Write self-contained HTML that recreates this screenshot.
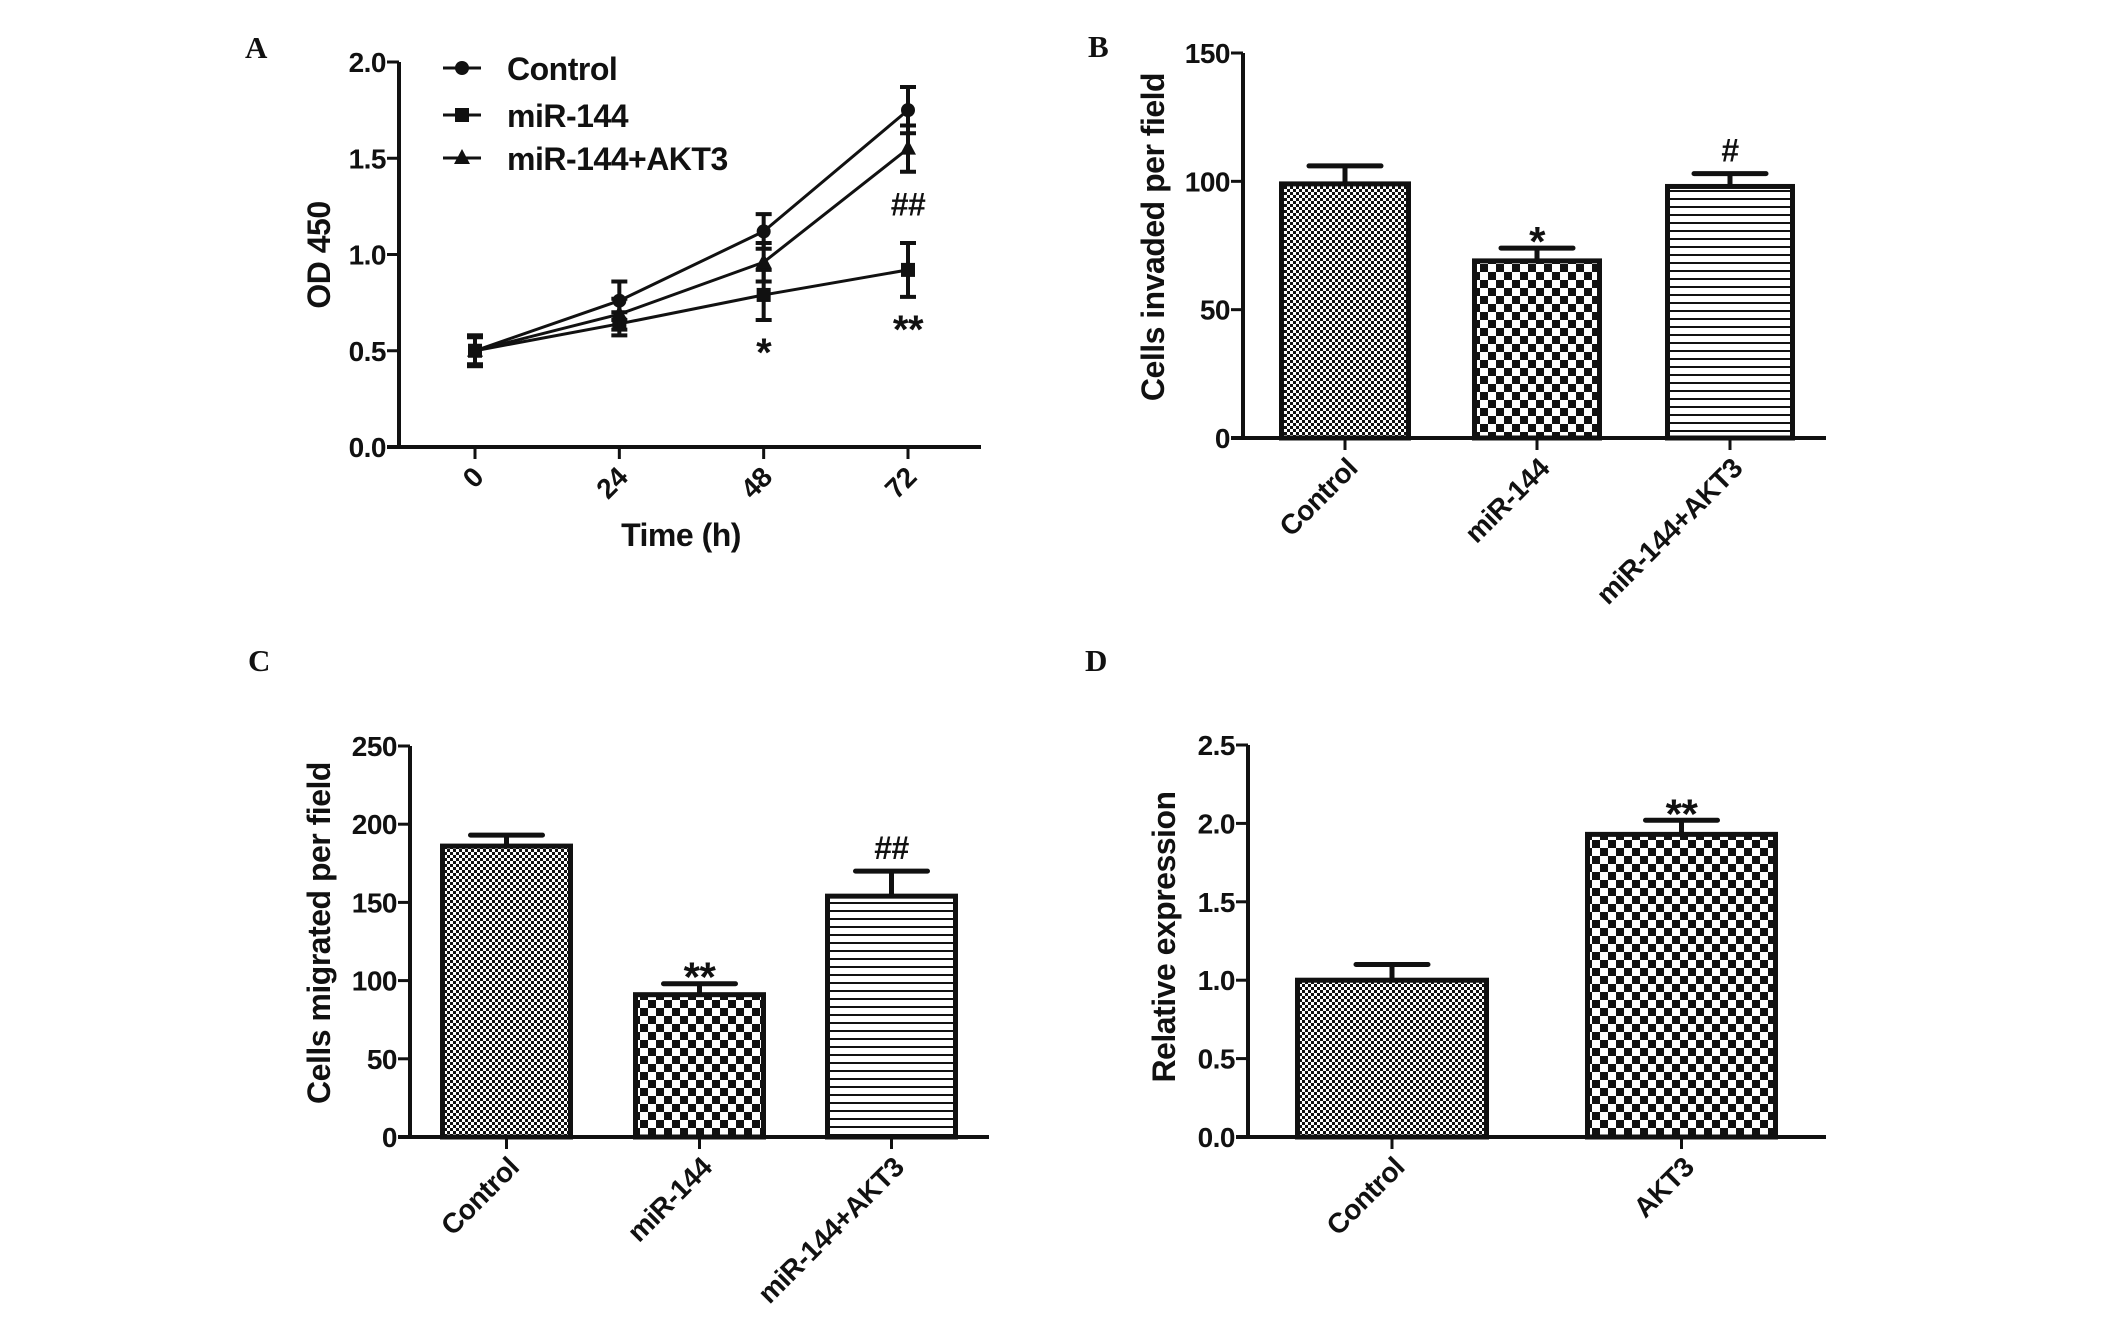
<!DOCTYPE html>
<html><head><meta charset="utf-8"><style>
html,body{margin:0;padding:0;background:#fff;}
svg{display:block;}
text{font-family:"Liberation Sans",Arial,sans-serif;font-weight:bold;fill:#111;letter-spacing:-0.5px;}
.lbl{font-family:"Liberation Serif",serif;font-size:31px;letter-spacing:0;}
</style></head><body>
<svg id="fig" width="2126" height="1320" viewBox="0 0 2126 1320">
<defs>
<pattern id="fine" width="6" height="6" patternUnits="userSpaceOnUse"><rect width="6" height="6" fill="#fff"/><rect width="3" height="3" fill="#111"/><rect x="3" y="3" width="3" height="3" fill="#111"/></pattern>
<pattern id="coarse" width="16" height="16" patternUnits="userSpaceOnUse"><rect width="16" height="16" fill="#fff"/><rect width="8" height="8" fill="#111"/><rect x="8" y="8" width="8" height="8" fill="#111"/></pattern>
<pattern id="hlines" width="8" height="8" patternUnits="userSpaceOnUse"><rect width="8" height="8" fill="#fff"/><rect y="6" width="8" height="2" fill="#111"/></pattern>
</defs>
</svg>
<script>
// Panel A data
const aTimes = ['0','24','48','72'];
const aSeries = ['Control','miR-144','miR-144+AKT3'];
const aControl = [0.5, 0.76, 1.12, 1.75];
const aControlErr = [0.08, 0.10, 0.09, 0.12];
const aMir = [0.5, 0.64, 0.79, 0.92];
const aMirErr = [0.08, 0.06, 0.13, 0.14];
const aAkt = [0.5, 0.69, 0.96, 1.55];
const aAktErr = [0.07, 0.08, 0.10, 0.12];
const aTicks = [0, 0.5, 1.0, 1.5, 2.0];
// Panel B
const bCats = ['Control','miR-144','miR-144+AKT3'];
const bVals = [99, 69, 98];
const bErr = [7, 5, 5];
const bMarks = ['', '*', '#'];
const bTicks = [0, 50, 100, 150];
// Panel C
const cCats = ['Control','miR-144','miR-144+AKT3'];
const cVals = [186, 91, 154];
const cErr = [7, 7, 16];
const cMarks = ['', '**', '##'];
const cTicks = [0, 50, 100, 150, 200, 250];
// Panel D
const dCats = ['Control','AKT3'];
const dVals = [1.00, 1.93];
const dErr = [0.10, 0.09];
const dMarks = ['', '**'];
const dTicks = [0, 0.5, 1.0, 1.5, 2.0, 2.5];

const NS='http://www.w3.org/2000/svg';
const svg=document.getElementById('fig');
function el(tag,attrs,parent,txt){const e=document.createElementNS(NS,tag);for(const k in attrs)e.setAttribute(k,attrs[k]);if(txt!==undefined)e.textContent=txt;(parent||svg).appendChild(e);return e;}

function axes(g,x0,xEnd,y0,yTop,ticks,ymax,fmt){
  const sy=v=>y0-(v/ymax)*(y0-yTop);
  const ax=el('line',{x1:x0,y1:y0+2,x2:x0,y2:yTop,stroke:'#111','stroke-width':4},g);
  
  
  const bx=el('line',{x1:x0-12,y1:y0,x2:xEnd,y2:y0,stroke:'#111','stroke-width':4},g);
  
  
  ticks.forEach(t=>{
    const tk=el('line',{x1:x0-12,y1:sy(t),x2:x0,y2:sy(t),stroke:'#111','stroke-width':3},g);
    
    
    const tl=el('text',{x:x0-13,y:sy(t)+10,'text-anchor':'end','font-size':28},g,fmt(t));
    
    
  });
  return sy;
}
function ytitle(g,x,y,txt){
  const t=el('text',{x:x,y:y,'text-anchor':'middle','font-size':32,transform:`rotate(-90 ${x} ${y})`},g,txt);
  
  
}
function xlabel(g,x,y,txt){
  const t=el('text',{x:x,y:y,'text-anchor':'end','font-size':28,transform:`rotate(-45 ${x} ${y})`},g,txt);
  
  
}
function panelLetter(x,y,txt){
  const t=el('text',{x:x,y:y,class:'lbl'},svg,txt);
  
  
}

// ===== Panel A =====
(function(){
  const g=el('g',{});
  
  
  panelLetter(245,58,'A');
  const x0=399,xEnd=981,y0=447,yTop=62;
  const sy=axes(g,x0,xEnd,y0,yTop,aTicks,2.0,v=>v.toFixed(1));
  const xs=[475,620,763,908];
  const sx=i=>xs[0]+i*((xs[3]-xs[0])/(aTimes.length-1));
  aTimes.forEach((t,i)=>{
    const tk=el('line',{x1:sx(i),y1:y0,x2:sx(i),y2:y0+12,stroke:'#111','stroke-width':3},g);
    
    
    xlabel(g,sx(i)+10,y0+32,t);
  });
  const series=[[aControl,aControlErr,'circle'],[aMir,aMirErr,'square'],[aAkt,aAktErr,'triangle']];
  function marker(gg,type,x,y){
    let m;
    if(type==='circle') m=el('circle',{cx:x,cy:y,r:7,fill:'#111'},gg);
    else if(type==='square') m=el('rect',{x:x-7,y:y-7,width:14,height:14,fill:'#111'},gg);
    else m=el('polygon',{points:`${x},${y-9} ${x+8},${y+6} ${x-8},${y+6}`,fill:'#111'},gg);
    return m;
  }
  series.forEach((s,si)=>{
    const sg=el('g',{},g);
    
    
    const pts=s[0].map((v,i)=>`${sx(i)},${sy(v)}`).join(' ');
    const pl=el('polyline',{points:pts,fill:'none',stroke:'#111','stroke-width':3},sg);
    
    
    s[0].forEach((v,i)=>{
      const e=s[1][i];
      const eb=el('path',{d:`M${sx(i)},${sy(v-e)}V${sy(v+e)}M${sx(i)-8},${sy(v-e)}H${sx(i)+8}M${sx(i)-8},${sy(v+e)}H${sx(i)+8}`,stroke:'#111','stroke-width':4,fill:'none'},sg);
      
      
      const m=marker(sg,s[2],sx(i),sy(v));
      
      
    });
  });
  const s1=el('text',{x:sx(2),y:sy(aMir[2]-aMirErr[2])+46,'text-anchor':'middle','font-size':40},g,'*');
  
  
  const s2=el('text',{x:sx(3),y:sy(aMir[3]-aMirErr[3])+46,'text-anchor':'middle','font-size':40},g,'**');
  
  
  const s3=el('text',{x:sx(3),y:sy(aAkt[3]-aAktErr[3])+44,'text-anchor':'middle','font-size':32},g,'##');
  
  
  const lg=el('g',{},g);
  
  
  const ly=[68,115,158];
  aSeries.forEach((n,i)=>{
    const eg=el('g',{},lg);
    
    
    el('line',{x1:443,y1:ly[i],x2:481,y2:ly[i],stroke:'#111','stroke-width':3},eg);
    marker(eg,series[i][2],462,ly[i]);
    el('text',{x:507,y:ly[i]+12,'font-size':32},eg,n);
  });
  ytitle(g,330,255,'OD 450');
  const xt=el('text',{x:681,y:546,'text-anchor':'middle','font-size':32},g,'Time (h)');
  
  
})();

function barPanel(name,letter,lx,ly,x0,xEnd,y0,yTop,ticks,ymax,fmt,cats,vals,errs,marks,bars,fills,title,tx,ty,labY){
  const g=el('g',{});
  
  
  panelLetter(lx,ly,letter);
  const sy=axes(g,x0,xEnd,y0,yTop,ticks,ymax,fmt);
  cats.forEach((c,i)=>{
    const [bl,br]=bars[i];const cx=(bl+br)/2;
    const top=sy(vals[i]),etop=sy(vals[i]+errs[i]);
    const eb=el('path',{d:`M${cx},${top}V${etop}M${cx-36},${etop}H${cx+36}`,stroke:'#111','stroke-width':5,'stroke-linecap':'round',fill:'none'},g);
    
    
    const r=el('rect',{x:bl+2.5,y:top,width:br-bl-5,height:y0-top,fill:`url(#${fills[i]})`,stroke:'#111','stroke-width':5},g);
    
    
    const tk=el('line',{x1:cx,y1:y0,x2:cx,y2:y0+12,stroke:'#111','stroke-width':3},g);
    
    
    xlabel(g,cx+14,labY,c);
    if(marks[i]){
      const isHash=marks[i][0]==='#';
      const m=el('text',{x:cx,y:etop-(isHash?12:-8),'text-anchor':'middle','font-size':isHash?32:42},g,marks[i]);
      
      
    }
  });
  ytitle(g,tx,ty,title);
}
barPanel('panel-b-bar-chart','B',1088,57,1243,1826,438,53,bTicks,150,v=>String(v),bCats,bVals,bErr,bMarks,
  [[1279,1411],[1472,1602],[1665,1795]],['fine','coarse','hlines'],'Cells invaded per field',1164,237,470);
barPanel('panel-c-bar-chart','C',248,671,410,989,1137,746,cTicks,250,v=>String(v),cCats,cVals,cErr,cMarks,
  [[440,573],[633,766],[825,958]],['fine','coarse','hlines'],'Cells migrated per field',330,933,1169);
barPanel('panel-d-bar-chart','D',1085,671,1248,1826,1137,745,dTicks,2.5,v=>v.toFixed(1),dCats,dVals,dErr,dMarks,
  [[1295,1489],[1585,1778]],['fine','coarse'],'Relative expression',1175,937,1169);
</script>
</body></html>
